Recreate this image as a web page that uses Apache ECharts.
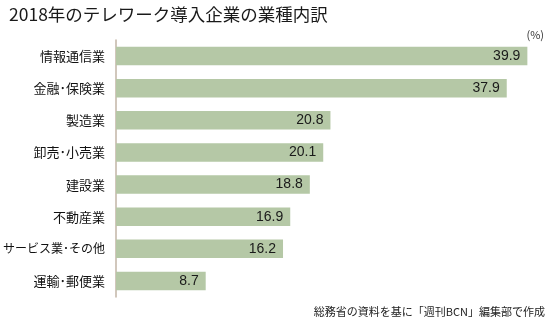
<!DOCTYPE html>
<html><head><meta charset="utf-8">
<script src="https://cdn.jsdelivr.net/npm/echarts@6/dist/echarts.min.js"></script>
<style>html,body{margin:0;padding:0;background:#fff}#c{width:550px;height:322px}</style>
</head><body><div id="c"></div>
<script>
var categories = ['情報通信業','金融･保険業','製造業','卸売･小売業','建設業','不動産業','サービス業･その他','運輸･郵便業'];
var values = [39.9, 37.9, 20.8, 20.1, 18.8, 16.9, 16.2, 8.7];
var titleText = '2018年のテレワーク導入企業の業種内訳';
var unitText = '(%)';
var sourceText = '総務省の資料を基に「週刊BCN」編集部で作成';

var font = '"Noto Sans CJK JP", "Noto Sans", sans-serif';
var chart = echarts.init(document.getElementById('c'), null, {renderer:'canvas'});
chart.setOption({
  animation: false,
  backgroundColor: '#fff',
  title: {text: titleText, left: 4, top: 1, textStyle: {fontFamily: font, fontSize: 17.5, fontWeight: 'normal', color: '#1a1a1a'}},
  graphic: [
    {type:'text', right: 6, top: 29, style:{text: unitText, font: '11px ' + font, fill:'#333'}},
    {type:'text', right: 5, top: 306, style:{text: sourceText, font: '11px ' + font, fill:'#222'}}
  ],
  grid: {left: 116, top: 40, width: 412.4, height: 257, containLabel: false, outerBoundsMode: 'none'},
  xAxis: {type:'value', min:0, max:40, show:false},
  yAxis: {
    type:'category', data: categories, inverse: true,
    axisLine: {show:true, lineStyle:{color:'#c2b5a6', width:1.5}},
    axisTick: {show:false},
    axisLabel: {
      margin: 11, fontFamily: font, fontSize: 13, color:'#111',
      formatter: function(v){ return v.length > 8 ? '{sm|' + v + '}' : v; },
      rich: {sm: {fontFamily: font, fontSize: 12, color: '#111'}}
    }
  },
  series: [{
    type:'bar', data: values, barWidth: 18.5,
    itemStyle: {color:'#b5c8a6'},
    label: {show:true, position:'insideRight', offset:[-2,0], fontFamily:'"Liberation Sans", Arial, sans-serif', fontSize:14, color:'#1a1a1a',
      formatter: function(p){return p.value.toFixed(1);}}
  }]
});
</script></body></html>
